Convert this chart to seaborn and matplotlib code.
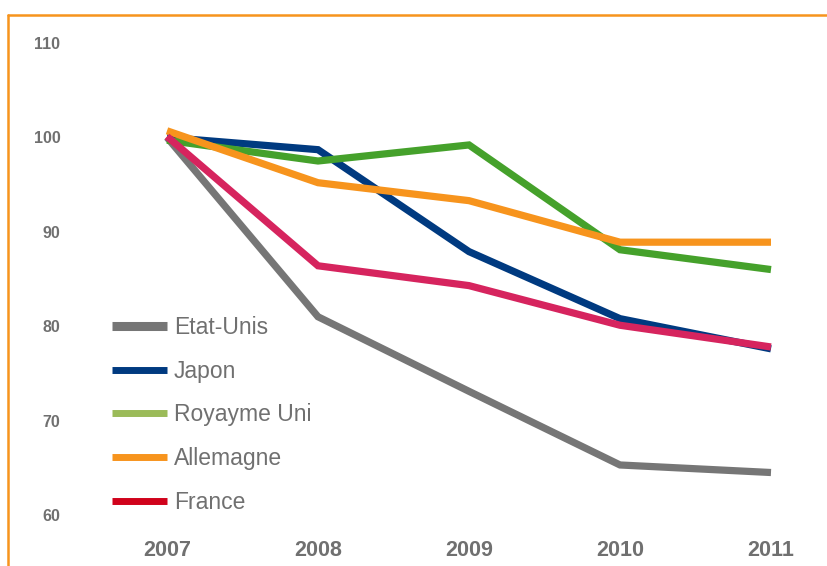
import pandas as pd
import matplotlib.pyplot as plt
import seaborn as sns
from matplotlib.lines import Line2D

years = [2007, 2008, 2009, 2010, 2011]
etats_unis = [100.0, 81.0, 73.1, 65.3, 64.5]
japon = [100.0, 98.7, 87.9, 80.8, 77.6]
royaume_uni = [99.7, 97.5, 99.2, 88.1, 86.0]
allemagne = [100.7, 95.2, 93.3, 88.9, 88.9]
france = [100.1, 86.4, 84.3, 80.1, 77.8]

names = ["Etat-Unis", "Japon", "Royayme Uni", "Allemagne", "France"]
series = [etats_unis, japon, royaume_uni, allemagne, france]
line_colors = ["#767676", "#003A80", "#45A12B", "#F7941D", "#D6245E"]
legend_colors = ["#767676", "#003A80", "#9BBB59", "#F7941D", "#D0021B"]

rows = []
for name, vals in zip(names, series):
    for y, v in zip(years, vals):
        rows.append({"year": y, "value": v, "pays": name})
df = pd.DataFrame(rows)

sns.set_theme(style="white")
plt.rcParams['font.family'] = ['Liberation Sans', 'DejaVu Sans']

fig = plt.figure(figsize=(8.28, 5.66), dpi=100)
ax = fig.add_axes([70 / 828, 1 - 515 / 566, 730 / 828, 472 / 566])

sns.lineplot(data=df, x="year", y="value", hue="pays", hue_order=names,
             palette=line_colors, linewidth=5.2, legend=False, ax=ax)
for ln in ax.lines:
    ln.set_solid_capstyle("butt")
    ln.set_solid_joinstyle("miter")

ax.set_xlim(2007 - 97 / 151, 2011 + 29 / 151)
ax.set_ylim(60, 110)
ax.set_xticks(years)
ax.set_yticks([60, 70, 80, 90, 100, 110])
ax.set_xlabel("")
ax.set_ylabel("")
for s in ax.spines.values():
    s.set_visible(False)
ax.tick_params(axis="both", length=0, colors="#707070")
ax.tick_params(axis="y", pad=7, labelsize=11.5)
ax.tick_params(axis="x", pad=18, labelsize=15.5)
for lab in ax.get_xticklabels() + ax.get_yticklabels():
    lab.set_fontweight("bold")

handles = [Line2D([0], [0], color=c, lw=6.5 if i == 0 else 5,
                  solid_capstyle="butt")
           for i, c in enumerate(legend_colors)]
leg = ax.legend(handles, names, loc="upper left",
                bbox_to_anchor=(103 / 828, 1 - 307 / 566),
                bbox_transform=fig.transFigure, frameon=False,
                fontsize=16.5, handlelength=2.4, handletextpad=0.3,
                labelspacing=0.9, borderaxespad=0)
for t in leg.get_texts():
    t.set_color("#707070")

# orange frame (top and left)
fig.add_artist(Line2D([8 / 828, 8 / 828], [0, 1 - 15 / 566],
                      color="#F7941D", lw=1.8, transform=fig.transFigure))
fig.add_artist(Line2D([8 / 828, 1], [1 - 15 / 566, 1 - 15 / 566],
                      color="#F7941D", lw=1.8, transform=fig.transFigure))

fig.savefig("out.png", dpi=100)
